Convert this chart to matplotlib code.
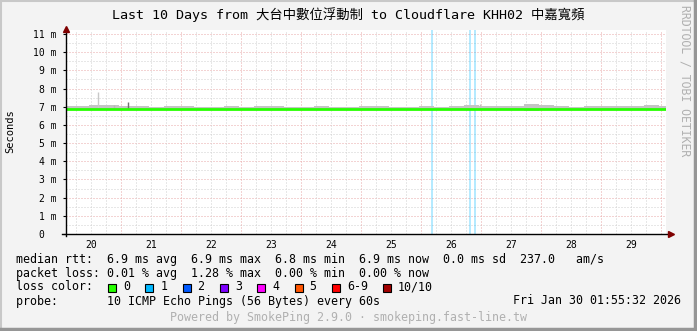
## SmokePing style latency graph: last 10 days
import numpy as np
import matplotlib
matplotlib.use("Agg")
from matplotlib import pyplot as plt
from matplotlib.patches import Rectangle

W, H = 697, 331
MONO = ["DejaVu Sans Mono", "Noto Sans CJK TC"]

# time axis in days of January (fractional), 10 days ending Fri Jan 30 01:55
t_start = 20.08
t_end = 30.08
day_labels = ["20", "21", "22", "23", "24", "25", "26", "27", "28", "29"]

# y axis (milliseconds)
y_ticks = list(range(0, 12))
y_labels = ["0  "] + ["%d m" % v for v in range(1, 12)]

# median rtt (ms)
median_t = [20.08, 20.6, 20.9, 21.5, 22.4, 23.2, 24.0, 24.8, 25.6, 26.4, 27.2, 27.8, 28.0, 28.6, 29.2, 29.8, 30.08]
median_ms = [6.87, 6.87, 6.86, 6.87, 6.87, 6.88, 6.87, 6.87, 6.87, 6.86, 6.87, 6.86, 6.87, 6.87, 6.87, 6.88, 6.88]

# smoke band (ms), sampled every quarter day
smoke_t = [20.08, 20.33, 20.58, 20.83, 21.08, 21.33, 21.58, 21.83, 22.08, 22.33,
           22.58, 22.83, 23.08, 23.33, 23.58, 23.83, 24.08, 24.33, 24.58, 24.83,
           25.08, 25.33, 25.58, 25.83, 26.08, 26.33, 26.58, 26.83, 27.08, 27.33,
           27.58, 27.83, 28.08, 28.33, 28.58, 28.83, 29.08, 29.33, 29.58, 29.83, 30.08]
smoke_hi = [7.02, 7.05, 7.08, 7.1, 7.05, 7.02, 7.01, 7.03, 7.06, 7.01,
            7.01, 7.02, 7.01, 7.02, 7.02, 7.01, 7.01, 7.02, 7.01, 7.01,
            7.02, 7.03, 7.01, 7.01, 7.02, 7.01, 7.02, 7.08, 7.03, 7.02,
            7.05, 7.17, 7.07, 7.02, 7.01, 7.03, 7.02, 7.02, 7.05, 7.07, 7.05]
smoke_lo = [6.82, 6.82, 6.81, 6.82, 6.82, 6.82, 6.82, 6.82, 6.82, 6.82,
            6.82, 6.82, 6.82, 6.82, 6.82, 6.82, 6.82, 6.82, 6.82, 6.82,
            6.82, 6.82, 6.82, 6.82, 6.82, 6.81, 6.82, 6.82, 6.82, 6.82,
            6.82, 6.78, 6.82, 6.82, 6.82, 6.82, 6.82, 6.82, 6.82, 6.82, 6.82]

# single outliers
spike_t = [20.62, 20.88, 21.12, 26.98]
spike_top = [7.81, 7.12, 7.26, 7.17]
spike_col = ["#c8c8c8", "#b8b8b8", "#707070", "#c0c0c0"]

# packet loss events (1/10)
loss_t = [26.18, 26.81, 26.90]

loss_names = ["0", "1", "2", "3", "4", "5", "6-9", "10/10"]
loss_colors = ["#26ff00", "#00b8ff", "#0059ff", "#7e00ff", "#ff00ff", "#ff5500", "#ff0000", "#a10000"]

fig = plt.figure(figsize=(W / 100, H / 100), dpi=100)
fig.patch.set_facecolor("#f3f3f3")

ax = fig.add_axes([66 / W, (H - 234) / H, 600 / W, 204 / H])
ax.set_facecolor("#ffffff")
ax.set_xlim(t_start, t_end)
ax.set_ylim(0, 204 / (200 / 11))

# grid
for v in np.arange(0.5, 11.5, 1.0):
    ax.axhline(v, color="#d0d0d0", lw=0.72, ls=(0, (1, 2)), zorder=1)
for v in y_ticks[1:]:
    ax.axhline(v, color="#e8a8a8", lw=0.72, ls=(0, (1, 2)), zorder=1)
for d in np.arange(20.25, 30.08, 0.25):
    if abs(d - round(d)) < 1e-6:
        ax.axvline(d, color="#e8a8a8", lw=0.72, ls=(0, (1, 2)), zorder=1)
    else:
        ax.axvline(d, color="#d0d0d0", lw=0.72, ls=(0, (1, 2)), zorder=1)

# loss marks
for t in loss_t:
    ax.axvline(t, color="#00b8ff", alpha=0.35, lw=1.2, zorder=2)

# smoke
ax.fill_between(smoke_t, smoke_lo, smoke_hi, color="#c4c4c4", lw=0, step="mid", zorder=3)
ax.vlines(spike_t, 6.87, spike_top, colors=spike_col, lw=1.0, zorder=3)

# median
ax.step(median_t, median_ms, where="post", color=loss_colors[0], lw=2.0, zorder=4)

# axes decoration
for s in ax.spines.values():
    s.set_visible(False)
ax.set_yticks(y_ticks)
ax.set_yticklabels(y_labels, fontfamily=MONO, fontsize=7)
ax.set_xticks([float(d) + 0.5 for d in day_labels])
ax.set_xticklabels(day_labels, fontfamily=MONO, fontsize=7)
ax.tick_params(axis="y", length=2, width=0.8, pad=5)
ax.tick_params(axis="x", length=0, pad=4)

ax.plot([-4 / 600, 602 / 600], [0, 0], transform=ax.transAxes, color="black", lw=1.0, clip_on=False, zorder=6)
ax.plot([0, 0], [-2 / 204, 202 / 204], transform=ax.transAxes, color="black", lw=1.0, clip_on=False, zorder=6)
ax.plot([605 / 600], [0], marker=">", ms=5, color="#7f0000", transform=ax.transAxes, clip_on=False, zorder=7)
ax.plot([0], [205 / 204], marker="^", ms=5, color="#7f0000", transform=ax.transAxes, clip_on=False, zorder=7)

def ptext(x, y, s, **kw):
    fig.text(x / W, 1 - y / H, s, **kw)

ptext(348, 15, "Last 10 Days from 大台中數位浮動制 to Cloudflare KHH02 中嘉寬頻",
      ha="center", va="center", fontsize=9.6, family=MONO)
ptext(10, 131, "Seconds", rotation=90, ha="center", va="center", fontsize=7.5, family=MONO)
ptext(685, 81, "RRDTOOL / TOBI OETIKER", rotation=270, ha="center", va="center",
      fontsize=8.3, family=MONO, color="#b0b0b0")

fs = 8.4
ptext(16, 260, "median rtt:  6.9 ms avg  6.9 ms max  6.8 ms min  6.9 ms now  0.0 ms sd  237.0   am/s",
      va="center", fontsize=fs, family=MONO)
ptext(16, 274, "packet loss: 0.01 % avg  1.28 % max  0.00 % min  0.00 % now",
      va="center", fontsize=fs, family=MONO)
ptext(16, 287, "loss color:", va="center", fontsize=fs, family=MONO)
bx = 108
for name, col in zip(loss_names, loss_colors):
    fig.patches.append(Rectangle((bx / W, 1 - 291.5 / H), 8 / W, 8 / H, transform=fig.transFigure,
                                 facecolor=col, edgecolor="black", lw=0.8))
    ptext(bx + 15, 287, name, va="center", fontsize=fs, family=MONO)
    bx += 37.3 + 7 * (len(name) - 1)
ptext(16, 301, "probe:       10 ICMP Echo Pings (56 Bytes) every 60s", va="center", fontsize=fs, family=MONO)
ptext(681, 301, "Fri Jan 30 01:55:32 2026", ha="right", va="center", fontsize=fs, family=MONO)
ptext(348, 318, "Powered by SmokePing 2.9.0 · smokeping.fast-line.tw", ha="center", va="center",
      fontsize=fs, family=MONO, color="#b0b0b0")

# 3d border
fig.add_artist(plt.Line2D([0, 1], [1 - 1 / H, 1 - 1 / H], transform=fig.transFigure, color="#c8c8c8", lw=1.5))
fig.add_artist(plt.Line2D([1 / W, 1 / W], [0, 1], transform=fig.transFigure, color="#c8c8c8", lw=1.5))
fig.add_artist(plt.Line2D([0, 1], [2 / H, 2 / H], transform=fig.transFigure, color="#969696", lw=2.5))
fig.add_artist(plt.Line2D([1 - 2 / W, 1 - 2 / W], [0, 1], transform=fig.transFigure, color="#969696", lw=2.5))

fig.savefig("out.png", dpi=100, facecolor=fig.get_facecolor())
